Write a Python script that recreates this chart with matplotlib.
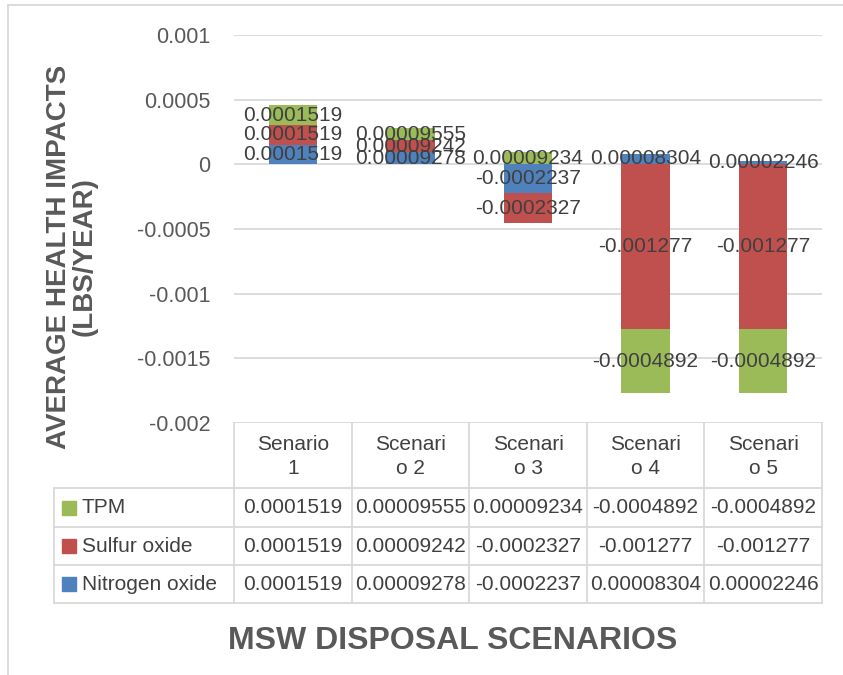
import numpy as np
import matplotlib.pyplot as plt

# health impacts per scenario (lbs/year)
scenarios = ['Senario\n1', 'Scenari\no 2', 'Scenari\no 3', 'Scenari\no 4', 'Scenari\no 5']
series = ['Nitrogen oxide', 'Sulfur oxide', 'TPM']
nitrogen = [0.0001519, 0.00009278, -0.0002237, 0.00008304, 0.00002246]
sulfur = [0.0001519, 0.00009242, -0.0002327, -0.001277, -0.001277]
tpm = [0.0001519, 0.00009555, 0.00009234, -0.0004892, -0.0004892]
colors = ['#4F81BD', '#C0504D', '#9BBB59']
yticks = [0.001, 0.0005, 0, -0.0005, -0.001, -0.0015, -0.002]

W, H = 843, 675
PL, PR, PT, PB = 234, 822, 35, 423   # plot area in pixels
TXT = '#404040'
GRID = '#D9D9D9'

plt.rcParams['font.family'] = ['Liberation Sans', 'DejaVu Sans']


def fmt(v):
    return np.format_float_positional(v, trim='-')


fig = plt.figure(figsize=(W / 100, H / 100), dpi=100)

# pixel-space overlay for the data table and the frame
pix = fig.add_axes([0, 0, 1, 1])
pix.set_xlim(0, W)
pix.set_ylim(H, 0)
pix.axis('off')

ax = fig.add_axes([PL / W, 1 - PB / H, (PR - PL) / W, (PB - PT) / H])
ax.set_xlim(-0.5, len(scenarios) - 0.5)
ax.set_ylim(-0.002, 0.001)
ax.set_yticks(yticks)
ax.set_yticklabels([fmt(t) for t in yticks], fontsize=15.5, color='#595959')
ax.set_xticks([])
ax.tick_params(axis='y', length=0, pad=17)
for s in ax.spines.values():
    s.set_visible(False)
ax.grid(axis='y', color=GRID, linewidth=1.3)
ax.set_axisbelow(True)
ax.patch.set_alpha(0)

x = np.arange(len(scenarios))
pos = np.zeros(len(scenarios))
neg = np.zeros(len(scenarios))
for vals, color in zip([nitrogen, sulfur, tpm], colors):
    vals = np.array(vals)
    base = np.where(vals >= 0, pos, neg)
    ax.bar(x, vals, 0.41, bottom=base, color=color, zorder=2)
    for xi, b, v in zip(x, base, vals):
        ax.text(xi, b + v / 2, fmt(v), ha='center', va='center',
                fontsize=15, color=TXT, zorder=3)
    pos = np.where(vals >= 0, pos + vals, pos)
    neg = np.where(vals < 0, neg + vals, neg)

# data table under the plot
colw = (PR - PL) / len(scenarios)
rows_y = [488, 527, 565, 603]
lw = 1.3
for i in range(len(scenarios) + 1):
    pix.plot([PL + i * colw] * 2, [PB, rows_y[-1]], color=GRID, lw=lw)
pix.plot([54, 54], [rows_y[0], rows_y[-1]], color=GRID, lw=lw)
for y in rows_y:
    pix.plot([54, PR], [y, y], color=GRID, lw=lw)

for i, name in enumerate(scenarios):
    pix.text(PL + (i + 0.5) * colw, (PB + rows_y[0]) / 2 + 1, name,
             ha='center', va='center', fontsize=15, color=TXT, linespacing=1.3)

table_rows = [('TPM', tpm, colors[2]), ('Sulfur oxide', sulfur, colors[1]),
              ('Nitrogen oxide', nitrogen, colors[0])]
for r, (label, vals, color) in enumerate(table_rows):
    yc = (rows_y[r] + rows_y[r + 1]) / 2
    pix.add_patch(plt.Rectangle((62, yc - 7), 14, 14, color=color))
    pix.text(82, yc, label, ha='left', va='center', fontsize=15, color=TXT)
    for i, v in enumerate(vals):
        pix.text(PL + (i + 0.5) * colw, yc, fmt(v), ha='center', va='center',
                 fontsize=15, color=TXT)

# axis titles
pix.text(453, 641, 'MSW DISPOSAL SCENARIOS', ha='center', va='center',
         fontsize=23, fontweight='bold', color='#595959')
pix.text(72, 257, 'AVERAGE HEALTH IMPACTS\n(LBS/YEAR)', ha='center', va='center',
         rotation=90, fontsize=20, fontweight='bold', color='#595959',
         linespacing=1.0)

# chart frame
pix.plot([8, 8], [5, H], color=GRID, lw=1.3)
pix.plot([8, W], [5, 5], color=GRID, lw=1.3)

fig.savefig('out.png', dpi=100)
